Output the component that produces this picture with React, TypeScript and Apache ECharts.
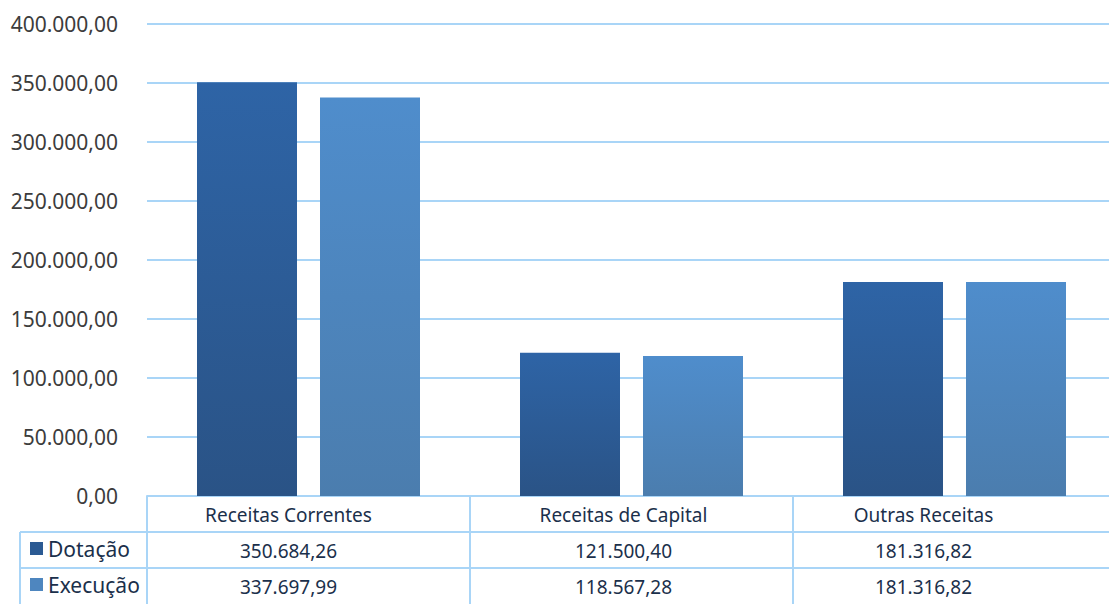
import React, { useEffect, useRef } from "react";
import * as echarts from "echarts";

const categories = ["Receitas Correntes", "Receitas de Capital", "Outras Receitas"];
const dotacao = [350684.26, 121500.4, 181316.82];
const execucao = [337697.99, 118567.28, 181316.82];
const seriesNames = ["Dotação", "Execução"];
const yTicks = { min: 0, max: 400000, interval: 50000 };

const fmt = (v: number) => {
  const [i, d] = v.toFixed(2).split(".");
  return i.replace(/\B(?=(\d{3})+(?!\d))/g, ".") + "," + d;
};

const FONT = "'Noto Sans', 'Open Sans', sans-serif";
const BORDER = "#A9D5F7";
const TEXT = "#1B304B";

// per-column horizontal nudge of the table texts (right padding shifts centred text left)
const cellRich = {
  c0: { fontSize: 19, color: TEXT, fontFamily: FONT, padding: [0, 40, 0, 0] },
  c1: { fontSize: 19, color: TEXT, fontFamily: FONT, padding: [0, 16, 0, 0] },
  c2: { fontSize: 19, color: TEXT, fontFamily: FONT, padding: [0, 62, 0, 0] },
};
const cellFormatter = (v: string, i: number) => `{c${i}|${v}}`;

export default function App() {
  const ref = useRef<HTMLDivElement>(null);
  useEffect(() => {
    if (!ref.current) return;
    const chart = echarts.init(ref.current, null, { renderer: "svg" });
    const darkGrad = new echarts.graphic.LinearGradient(0, 0, 0, 1, [
      { offset: 0, color: "#2E64A6" },
      { offset: 1, color: "#2A5386" },
    ]);
    const lightGrad = new echarts.graphic.LinearGradient(0, 0, 0, 1, [
      { offset: 0, color: "#4F8DCC" },
      { offset: 1, color: "#4B7DAE" },
    ]);
    const valueAxis = (data: number[], offset: number) => ({
      type: "category",
      position: "bottom",
      offset,
      data: data.map(fmt),
      axisLine: { show: false },
      axisTick: { show: false },
      axisLabel: { margin: 9, formatter: cellFormatter, rich: cellRich },
    });
    const legendOf = (name: string, color: string, top: number) => ({
      orient: "vertical",
      left: 30,
      top,
      padding: 0,
      icon: "rect",
      itemWidth: 13,
      itemHeight: 13,
      itemGap: 4,
      textStyle: { fontSize: 21, color: TEXT, fontFamily: FONT },
      data: [{ name, itemStyle: { color } }],
    });
    chart.setOption({
      animation: false,
      backgroundColor: "#ffffff",
      grid: { left: 147, right: 4, top: 24, bottom: 108 },
      legend: [
        legendOf(seriesNames[0], "#2B5A93", 538),
        legendOf(seriesNames[1], "#4E86BF", 574),
      ],
      xAxis: [
        {
          type: "category",
          data: categories,
          axisLine: { show: true, lineStyle: { color: BORDER, width: 2 } },
          axisTick: { show: true, length: 110, lineStyle: { color: BORDER, width: 2 } },
          axisLabel: { margin: 9, formatter: cellFormatter, rich: cellRich },
        },
        valueAxis(dotacao, 36),
        valueAxis(execucao, 72),
      ],
      yAxis: {
        type: "value",
        min: yTicks.min,
        max: yTicks.max,
        interval: yTicks.interval,
        axisLine: { show: false },
        axisTick: { show: false },
        splitLine: { lineStyle: { color: BORDER, width: 2 } },
        axisLabel: {
          formatter: (v: number) => fmt(v),
          fontSize: 21,
          color: "#3C3C3C",
          fontFamily: FONT,
          margin: 29,
        },
      },
      series: [
        {
          name: seriesNames[0],
          type: "bar",
          data: dotacao,
          barWidth: 100,
          barGap: "23%",
          itemStyle: { color: darkGrad },
        },
        {
          name: seriesNames[1],
          type: "bar",
          data: execucao,
          barWidth: 100,
          itemStyle: { color: lightGrad },
        },
      ],
      graphic: [
        { type: "line", shape: { x1: 20, y1: 532, x2: 1109, y2: 532 }, style: { stroke: BORDER, lineWidth: 2 } },
        { type: "line", shape: { x1: 20, y1: 568, x2: 1109, y2: 568 }, style: { stroke: BORDER, lineWidth: 2 } },
        { type: "line", shape: { x1: 20, y1: 532, x2: 20, y2: 604 }, style: { stroke: BORDER, lineWidth: 2 } },
      ],
    });
    return () => chart.dispose();
  }, []);
  return (
    <div style={{ position: "fixed", left: 0, top: 0, width: 1109, height: 604, overflow: "hidden" }}>
      <div ref={ref} style={{ width: 1120, height: 604 }} />
    </div>
  );
}
